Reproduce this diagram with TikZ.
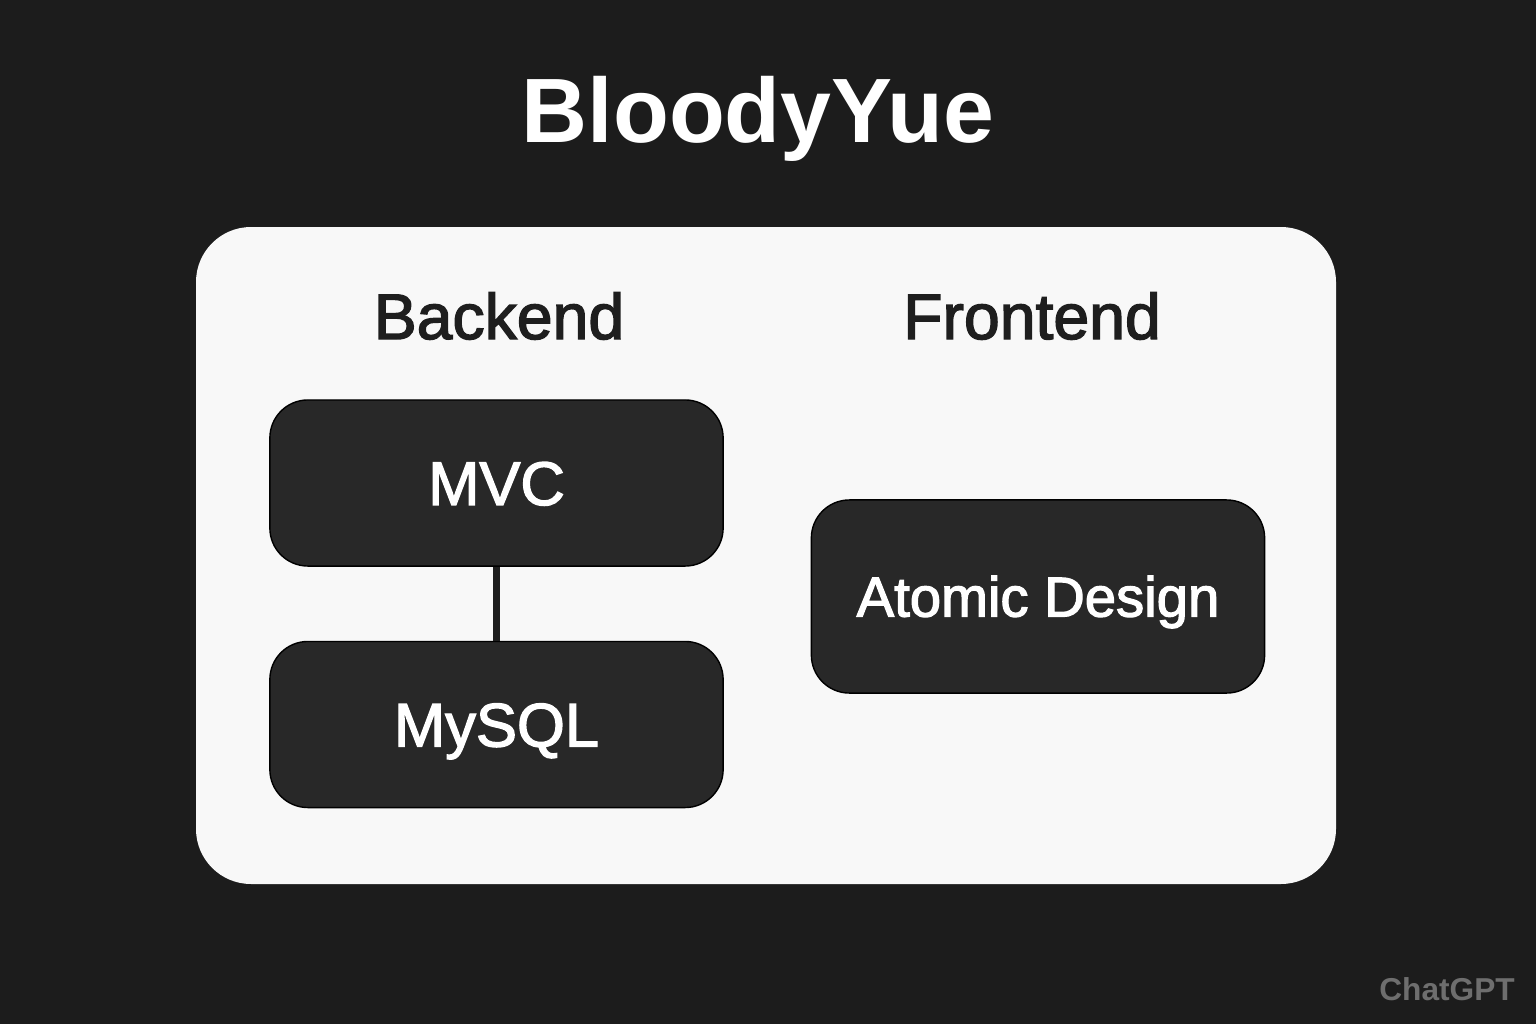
\documentclass[tikz,border=0pt]{standalone}
\usepackage{fontspec}
\setmainfont{Liberation Sans}
\newfontfamily\medfont{Liberation Sans}[FakeBold=2.2]
\definecolor{bgdark}{HTML}{1C1C1C}
\definecolor{panelfill}{HTML}{F8F8F8}
\definecolor{boxfill}{HTML}{282828}
\definecolor{inkdark}{HTML}{1E1E1E}
\definecolor{markgrey}{HTML}{6E6E6E}
\newcommand\boxWidth{4.53cm}
\newcommand\boxHeight{1.66cm}
\newcommand\boxRound{0.38cm}
\newcommand\panelRound{0.55cm}

\begin{document}
\begin{tikzpicture}[x=0.01cm, y=-0.01cm,
    tierbox/.style={fill=boxfill, draw=black, line width=0.4pt, rounded corners=\boxRound,
      minimum width=\boxWidth, minimum height=\boxHeight, inner sep=0pt,
      text=white, font=\medfont\fontsize{17.5}{20}\selectfont, text height=12.5pt, text depth=0pt},
    heading/.style={anchor=base, text=inkdark, font=\medfont\fontsize{18.3}{22}\selectfont},
    link/.style={draw=inkdark, line width=2pt}]

    % background and frame
    \fill[bgdark] (0,0) rectangle (1536,1024);
    \useasboundingbox (0,0) rectangle (1536,1024);
    \fill[panelfill, rounded corners=\panelRound] (196,227) rectangle (1336,884);

    \node[anchor=base, text=white, font=\bfseries\fontsize{26}{30}\selectfont] (title) at (758,142) {BloodyYue};

    \node[heading] (backend) at (499,339) {Backend};
    \node[heading] (frontend) at (1032,339) {Frontend};

    % backend stack
    \node[tierbox] (mvc) at (496.5,483) {MVC};
    \node[tierbox] (mysql) at (496.5,724.5) {MySQL};
    \draw[link] (mvc) -- (mysql);

    % frontend
    \node[tierbox, minimum height=1.93cm, font=\medfont\fontsize{16}{19}\selectfont, text height=11.4pt] (atomic) at (1038,596.5) {Atomic Design};

    \node[anchor=base, text=markgrey, font=\bfseries\fontsize{9}{10}\selectfont] (mark) at (1447,1000) {ChatGPT};

\end{tikzpicture}
\end{document}
